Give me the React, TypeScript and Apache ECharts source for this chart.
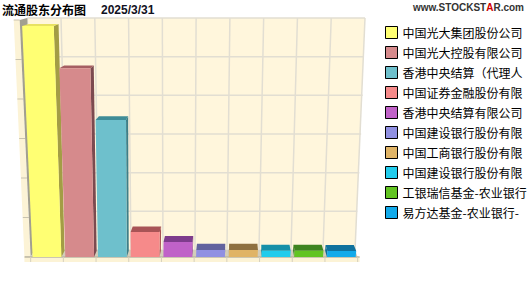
import React, { useEffect, useRef } from "react";
import * as echarts from "echarts";

// Top ten circulating shareholders, 2025/3/31
const holders = [
  "中国光大集团股份公司",
  "中国光大控股有限公司",
  "香港中央结算（代理人）有限公司",
  "中国证券金融股份有限公司",
  "香港中央结算有限公司",
  "中国建设银行股份有限公司－华宝中证银行交易型开放式指数证券投资基金",
  "中国工商银行股份有限公司－华泰柏瑞沪深300交易型开放式指数证券投资基金",
  "中国建设银行股份有限公司－易方达沪深300交易型开放式指数发起式证券投资基金",
  "工银瑞信基金-农业银行-工银瑞信中证金融资产管理计划",
  "易方达基金-农业银行-易方达中证金融资产管理计划",
];
const holdingValues = [58.5, 47.8, 34.7, 6.3, 3.8, 1.8, 1.8, 1.6, 1.6, 1.5];
const yTicks = [0, 10, 20, 30, 40, 50, 60];
const Y_MAX = 60;

const frontColors = ["#FFFF73", "#D68A8C", "#6EC0CC", "#F68A8A", "#C062C8", "#9090E2", "#E0B466", "#22CCEC", "#62C422", "#12AAEA"];
const sideColors = ["#A39D45", "#7C4A50", "#3E7E88", "#A65052", "#7A3A88", "#5C5CA0", "#8C6E3E", "#15869E", "#3C7E1E", "#0F6C98"];
const topColors = ["#E8E262", "#A65E62", "#3F8C97", "#A85456", "#7E3C8C", "#62629E", "#8E7040", "#1690A8", "#3E8420", "#10729E"];

// Pseudo-perspective: front plane leans toward a centre line, depth recedes up.
function makeProjector(floorY: number, topY: number) {
  const span = floorY - topY;
  const VX = 140;
  const front = (x: number, y: number): number[] => {
    const t = (floorY - y) / span;
    return [VX + (x - VX) * (1 + 0.1 * t), y];
  };
  const back = (x: number, y: number, f = 1): number[] => {
    const p = front(x, y);
    const t = (floorY - y) / span;
    const k = 0.021 + 0.04 * t;
    const vx = 233 - 90 * t;
    return [p[0] + k * (vx - p[0]) * f, p[1] - (7 - 5 * t) * f];
  };
  return { front, back };
}

const line = (a: number[], b: number[], stroke: string, lineWidth = 1) => ({
  type: "line",
  shape: { x1: a[0], y1: a[1], x2: b[0], y2: b[1] },
  style: { stroke, lineWidth },
});

const poly = (points: number[][], fill: string, z2 = 0) => ({
  type: "polygon",
  z2,
  shape: { points },
  style: { fill },
});

function renderWalls(_params: any, api: any) {
  const band = api.coord([1, 0])[0] - api.coord([0, 0])[0];
  const left = api.coord([0, 0])[0] - band / 2;
  const right = api.coord([holders.length - 1, 0])[0] + band / 2;
  const floorY = api.coord([0, 0])[1];
  const topY = api.coord([0, Y_MAX])[1];
  const { front, back } = makeProjector(floorY, topY);
  const slab = 6;
  const children: any[] = [];

  // back wall
  children.push(poly([back(left, topY), back(right, topY), back(right, floorY), back(left, floorY)], "#FFF6DC"));
  yTicks.forEach((v) => {
    const y = api.coord([0, v])[1];
    children.push(line(back(left, y), back(right, y), "#E2DED2", 1.5));
  });
  for (let j = 0; j <= holders.length; j++) {
    const x = left + band * j;
    children.push(line(back(x, topY), back(x, floorY), "#E2DED2", 1.5));
  }

  // left wall and its edge slab
  const lt = front(left, topY);
  const lb = front(left, floorY);
  children.push(poly([[lt[0] - slab, lt[1]], lt, [lb[0], lb[1] + 5], [lb[0] - slab, lb[1] + 5]], "#FCF3D6"));
  yTicks.forEach((v) => {
    const p = front(left, api.coord([0, v])[1]);
    children.push(line([p[0] - slab, p[1]], p, "#C9C3B0", 1));
  });
  children.push(poly([lt, back(left, topY), back(left, floorY), lb], "#A29F90"));

  // floor
  const rb = front(right, floorY);
  children.push(poly([lb, rb, back(right, floorY), back(left, floorY)], "#D3CDB9"));
  children.push(poly([[lb[0] - slab, lb[1]], [rb[0] + 2, rb[1]], [rb[0] + 2, rb[1] + 5], [lb[0] - slab, lb[1] + 5]], "#FCF3D6"));
  children.push(line([lb[0] - slab, lb[1]], [rb[0] + 2, rb[1]], "#BDB7A4", 1.5));
  for (let j = 0; j <= holders.length; j++) {
    const p = front(left + band * j, floorY);
    children.push(line(p, [p[0], p[1] + 5], "#D6D0BE", 1));
  }
  return { type: "group", children };
}

function renderBar(params: any, api: any) {
  const idx = params.seriesIndex - 1;
  const i = api.value(0);
  const v = api.value(1);
  const band = api.coord([1, 0])[0] - api.coord([0, 0])[0];
  const base = api.coord([i, 0]);
  const floorY = base[1];
  const topY = api.coord([0, Y_MAX])[1];
  const yt = api.coord([i, v])[1];
  const w = band * 0.88;
  const xl = base[0] - w / 2;
  const xr = base[0] + w / 2;
  const { front, back } = makeProjector(floorY, topY);
  const D = 0.88;
  const fTL = front(xl, yt), fTR = front(xr, yt), fBR = front(xr, floorY), fBL = front(xl, floorY);
  const bTL = back(xl, yt, D), bTR = back(xr, yt, D), bBR = back(xr, floorY, D), bBL = back(xl, floorY, D);
  const sideRight = bTR[0] > fTR[0];
  const side = sideRight ? [fTR, bTR, bBR, fBR] : [fTL, bTL, bBL, fBL];
  return {
    type: "group",
    children: [
      poly(side, sideColors[idx], 1),
      poly([fTL, fTR, bTR, bTL], topColors[idx], 1),
      poly([fTL, fTR, fBR, fBL], frontColors[idx], 2),
    ],
  };
}

export default function App() {
  const ref = useRef<HTMLDivElement>(null);

  useEffect(() => {
    if (!ref.current) return;
    const chart = echarts.init(ref.current, null, { renderer: "svg" });
    const barSeries = holders.map((name, i) => ({
      type: "custom",
      name,
      coordinateSystem: "cartesian2d",
      clip: false,
      z: 3,
      itemStyle: { color: frontColors[i] },
      data: [[i, holdingValues[i]]],
      renderItem: renderBar,
    }));
    chart.setOption({
      animation: false,
      backgroundColor: "#FFFFFF",
      grid: { left: 30.65, right: 530 - 357.65, top: 20, bottom: 294 - 257 },
      xAxis: {
        type: "category",
        data: holders,
        show: false,
      },
      yAxis: {
        type: "value",
        min: 0,
        max: Y_MAX,
        interval: 10,
        show: false,
      },
      legend: {
        orient: "vertical",
        left: 385,
        top: 26,
        itemWidth: 12,
        itemHeight: 12,
        itemGap: 7,
        padding: 0,
        icon: "rect",
        selectedMode: false,
        itemStyle: { borderColor: "#000000", borderWidth: 1 },
        textStyle: {
          fontFamily: "Noto Sans CJK SC",
          fontSize: 12,
          color: "#000000",
          width: 127,
          overflow: "truncate",
          ellipsis: "",
        },
        data: holders,
      },
      graphic: [
        {
          type: "text",
          left: 2,
          top: 3,
          style: { text: "流通股东分布图", font: 'bold 12px "Noto Sans CJK SC"', fill: "#000000" },
        },
        {
          type: "text",
          left: 101,
          top: 4,
          style: { text: "2025/3/31", font: 'bold 12px "Liberation Sans"', fill: "#111122" },
        },
        {
          type: "text",
          right: 6,
          top: 2,
          style: {
            text: "{a|www.STOCKST}{r|A}{a|R.com}",
            rich: {
              a: { font: 'bold 10px "Liberation Sans"', fill: "#333333" },
              r: { font: 'bold 10px "Liberation Sans"', fill: "#D00000" },
            },
          },
        },
      ],
      series: [
        {
          type: "custom",
          name: "walls",
          coordinateSystem: "cartesian2d",
          clip: false,
          z: 1,
          silent: true,
          data: [[0, 0]],
          renderItem: renderWalls,
        },
        ...barSeries,
      ],
    });
    return () => chart.dispose();
  }, []);

  return (
    <div
      ref={ref}
      style={{ position: "absolute", left: 0, top: 0, width: 530, height: 294 }}
    />
  );
}
